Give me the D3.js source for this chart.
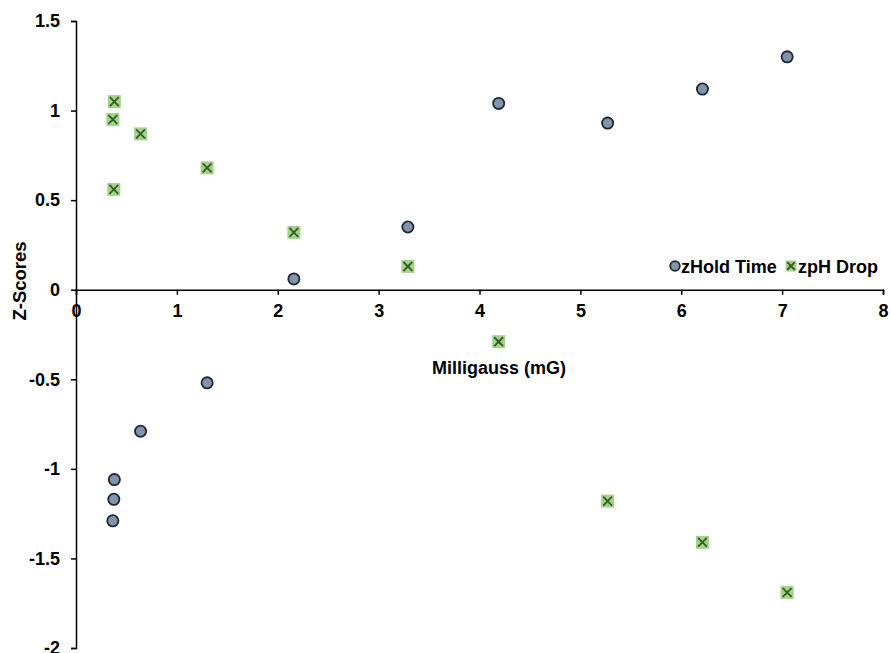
<!DOCTYPE html>
<html>
<head>
<meta charset="utf-8">
<script src="https://cdn.jsdelivr.net/npm/d3@7"></script>
<style>
  html, body { margin: 0; padding: 0; background: #fff; }
  svg { display: block; }
  text { font-family: "Liberation Sans", Arial, sans-serif; font-weight: bold; fill: #000; }
</style>
</head>
<body>
<svg id="chart" width="890" height="653"></svg>
<script>
const milligauss = [0.365, 0.38, 0.375, 0.64, 1.30, 2.16, 3.29, 4.19, 5.27, 6.21, 7.05];
const zHoldTime  = [-1.29, -1.06, -1.17, -0.79, -0.52, 0.06, 0.35, 1.04, 0.93, 1.12, 1.30];
const zpHDrop    = [0.95, 1.05, 0.56, 0.87, 0.68, 0.32, 0.13, -0.29, -1.18, -1.41, -1.69];
const xTicks = [0, 1, 2, 3, 4, 5, 6, 7, 8];
const yTicks = [-2, -1.5, -1, -0.5, 0, 0.5, 1, 1.5];
const seriesNames = ["zHold Time", "zpH Drop"];

const FONT = "Liberation Sans, Arial, sans-serif";
const svg = d3.select("#chart");
const x = d3.scaleLinear().domain([0, 8]).range([76, 883]);
const y = d3.scaleLinear().domain([-2, 1.5]).range([648, 21]);

function styleAxis(g) {
  g.select(".domain").attr("stroke", "#000").attr("stroke-width", 1.5);
  g.selectAll(".tick line").attr("stroke", "#000").attr("stroke-width", 1.5);
  g.selectAll(".tick text").style("font-size", "18px").style("font-family", FONT)
    .style("font-weight", "bold").attr("fill", "#000");
}

// y axis
const yAxis = d3.axisLeft(y).tickValues(yTicks).tickSize(5).tickPadding(11)
  .tickFormat(d => String(d));
const gy = svg.append("g").attr("transform", `translate(${x(0)},0)`).call(yAxis);
styleAxis(gy);

// x axis
const xAxis = d3.axisBottom(x).tickValues(xTicks).tickSize(5).tickPadding(10)
  .tickFormat(d => String(d));
const gx = svg.append("g").attr("transform", `translate(0,${y(0)})`).call(xAxis);
styleAxis(gx);

// axis titles
svg.append("text").attr("x", 499).attr("y", 374).attr("text-anchor", "middle")
  .style("font-size", "18px").text("Milligauss (mG)");
svg.append("text").attr("transform", "translate(26,281) rotate(-90)").attr("text-anchor", "middle")
  .style("font-size", "18.5px").text("Z-Scores");

// markers
function drawCircle(g, cx, cy, r) {
  g.append("circle").attr("cx", cx).attr("cy", cy).attr("r", r)
    .attr("fill", "#8094ad").attr("stroke", "#1e2733").attr("stroke-width", 1.8);
}
function drawSquareX(g, cx, cy, s) {
  const h = s / 2, k = s * 0.34;
  g.append("rect").attr("x", cx - h).attr("y", cy - h).attr("width", s).attr("height", s)
    .attr("fill", "#a3d38b");
  g.append("path").attr("d", `M${cx - k},${cy - k}L${cx + k},${cy + k}M${cx + k},${cy - k}L${cx - k},${cy + k}`)
    .attr("stroke", "#345a25").attr("stroke-width", 1.8).attr("fill", "none");
}

const gPts = svg.append("g");
milligauss.forEach((mv, i) => {
  drawSquareX(gPts, x(mv), y(zpHDrop[i]), 13);
});
milligauss.forEach((mv, i) => {
  drawCircle(gPts, x(mv), y(zHoldTime[i]), 5.6);
});

// legend
const leg = svg.append("g");
drawCircle(leg, 675, 266, 4.8);
leg.append("text").attr("x", 681).attr("y", 272.5).style("font-size", "18px").text(seriesNames[0]);
drawSquareX(leg, 791, 266, 11);
leg.append("text").attr("x", 798).attr("y", 272.5).style("font-size", "18px").text(seriesNames[1]);
</script>
</body>
</html>
